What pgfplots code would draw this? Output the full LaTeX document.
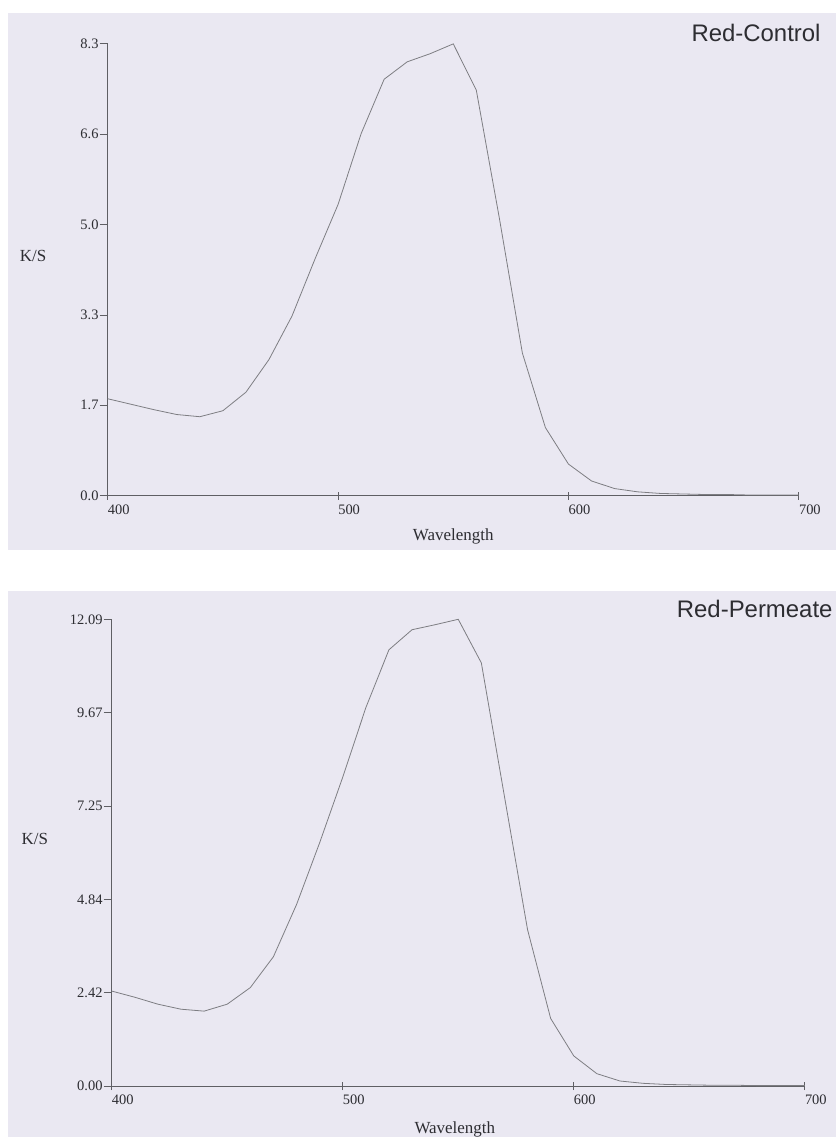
\documentclass[border=0pt]{standalone}
\usepackage{pgfplots}
\pgfplotsset{compat=1.18}
\usepackage{fontspec}
\setmainfont{Liberation Serif}
\newfontfamily\arialf{Liberation Sans}
\definecolor{bgc}{RGB}{234,232,242}
\definecolor{crv}{RGB}{125,125,130}
\definecolor{axc}{RGB}{95,95,100}
\definecolor{txc}{RGB}{45,45,50}
\pgfplotsset{
  kscommon/.style={
    scale only axis,
    axis lines=left,
    axis line style={-, axc, line width=0.9pt},
    xmin=400, xmax=700, ymin=0,
    xtick={400,500,600,700},
    xticklabels={400,500,600,700},
    xtick align=center,
    ytick align=outside,
    major tick length=8pt,
    tick style={axc, line width=0.8pt},
    ticklabel style={font=\fontsize{14.5}{16}\selectfont, text=txc},
    xticklabel style={anchor=north west, inner sep=0pt, yshift=-5pt, xshift=0pt},
    yticklabel style={anchor=east, inner sep=1pt},
    label style={font=\fontsize{17}{19}\selectfont, text=txc},
    clip=false,
  }
}
\pgfplotstableread{
x y
400 1.78
410 1.68
420 1.58
430 1.49
440 1.45
450 1.56
460 1.90
470 2.50
480 3.30
490 4.35
500 5.35
510 6.65
520 7.65
530 7.97
540 8.12
550 8.30
560 7.45
570 5.10
580 2.62
590 1.25
600 0.58
610 0.27
620 0.13
630 0.07
640 0.04
650 0.03
660 0.02
670 0.02
680 0.01
690 0.01
700 0.01
}\control
\pgfplotstableread{
x y
400 2.46
410 2.30
420 2.12
430 1.99
440 1.94
450 2.12
460 2.55
470 3.35
480 4.70
490 6.30
500 8.00
510 9.80
520 11.30
530 11.82
540 11.95
550 12.09
560 10.96
570 7.50
580 4.05
590 1.75
600 0.78
610 0.32
620 0.13
630 0.07
640 0.04
650 0.03
660 0.02
670 0.02
680 0.01
690 0.01
700 0.01
}\permeate
\begin{document}
\begin{tikzpicture}[x=1pt,y=1pt]
\path (0,0) rectangle (838,1140);
\fill[bgc] (8,588) rectangle (838,1127);
\fill[bgc] (8,0) rectangle (838,547);
\begin{axis}[kscommon,
  at={(108pt,643pt)}, anchor=south west,
  width=693pt, height=453pt,
  ymax=8.3,
  ytick={0,1.66,3.32,4.98,6.64,8.3},
  yticklabels={0.0,1.7,3.3,5.0,6.6,8.3},
  xlabel={Wavelength},
  xlabel style={at={(axis description cs:0.5,-0.0905)}, anchor=center},
  ylabel={K/S},
  ylabel style={rotate=-90, at={(axis description cs:-0.108,0.53)}, anchor=center},
]
\addplot[crv, line width=0.8pt, no markers] table[x=x,y=y] {\control};
\end{axis}
\begin{axis}[kscommon,
  at={(112pt,51pt)}, anchor=south west,
  width=695pt, height=468pt,
  ymax=12.09,
  ytick={0,2.418,4.836,7.254,9.672,12.09},
  yticklabels={0.00,2.42,4.84,7.25,9.67,12.09},
  xlabel={Wavelength},
  xlabel style={at={(axis description cs:0.495,-0.092)}, anchor=center},
  ylabel={K/S},
  ylabel style={rotate=-90, at={(axis description cs:-0.111,0.53)}, anchor=center},
]
\addplot[crv, line width=0.8pt, no markers] table[x=x,y=y] {\permeate};
\end{axis}
\node[anchor=east, text=txc, font=\arialf\fontsize{24}{26}\selectfont, inner sep=0pt] at (823,1107) {Red-Control};
\node[anchor=east, text=txc, font=\arialf\fontsize{24}{26}\selectfont, inner sep=0pt] at (835,529) {Red-Permeate};
\end{tikzpicture}
\end{document}
